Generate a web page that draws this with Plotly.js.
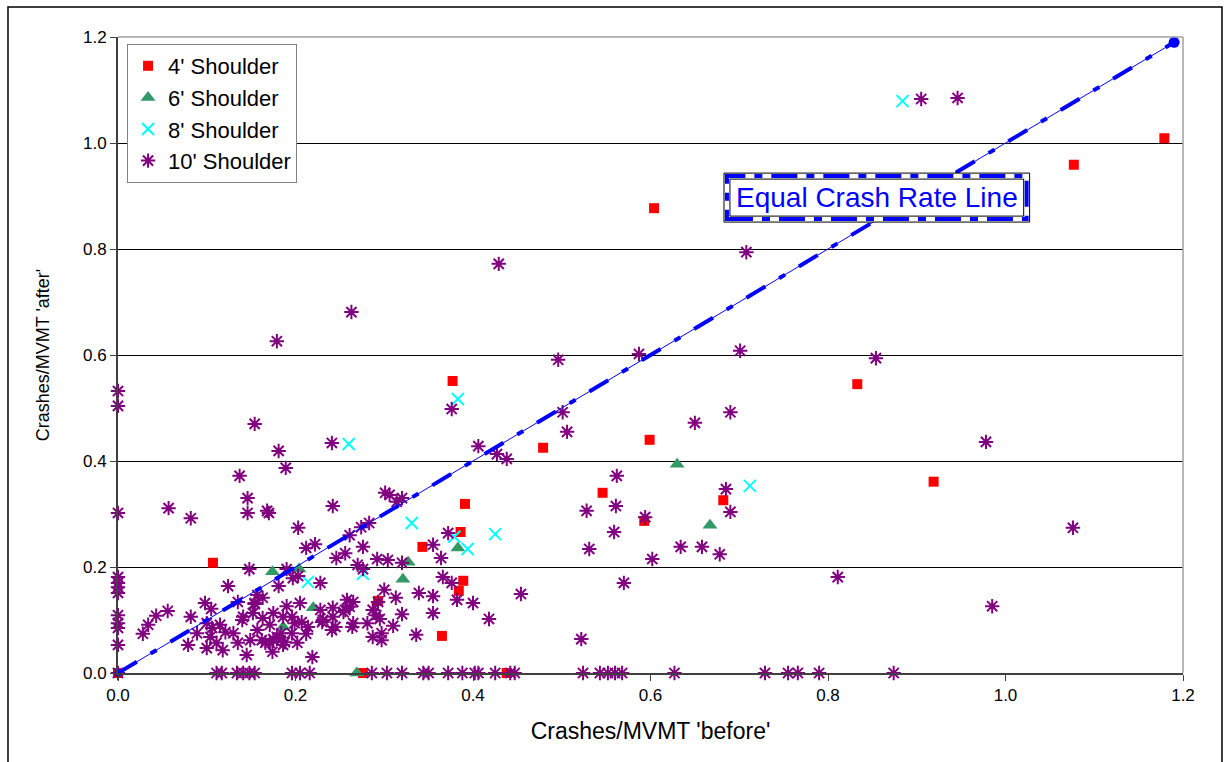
<!DOCTYPE html>
<html>
<head>
<meta charset="utf-8">
<script src="https://cdn.plot.ly/plotly-3.0.1.min.js"></script>
<style>html,body{margin:0;padding:0;background:#fff;}#chart{width:1227px;height:762px;}</style>
</head>
<body>
<div id="chart"></div>
<script>
// ---- Data (Crashes/MVMT before vs after) ----
const s4x = [0, 0.107, 0.276, 0.293, 0.377, 0.343, 0.365, 0.384, 0.386, 0.389, 0.391, 0.438, 0.479, 0.546, 0.593, 0.599, 0.604, 0.682, 0.833, 0.919, 1.077, 1.179];
const s4y = [0, 0.208, 0, 0.136, 0.551, 0.238, 0.070, 0.155, 0.266, 0.174, 0.319, 0, 0.425, 0.340, 0.287, 0.440, 0.877, 0.326, 0.545, 0.361, 0.959, 1.009];

const s6x = [0.174, 0.204, 0.220, 0.186, 0.269, 0.327, 0.321, 0.383, 0.630, 0.667];
const s6y = [0.191, 0.196, 0.123, 0.087, 0, 0.209, 0.177, 0.236, 0.394, 0.279];

const s8x = [0.260, 0.383, 0.331, 0.425, 0.379, 0.394, 0.214, 0.276, 0.712, 0.884];
const s8y = [0.432, 0.517, 0.283, 0.262, 0.257, 0.234, 0.172, 0.187, 0.353, 1.079];

const s10x = [
  0, 0, 0, 0, 0, 0, 0, 0, 0, 0, 0, 0,
  0.111, 0.117, 0.134, 0.141, 0.148, 0.154, 0.196, 0.205, 0.216, 0.286, 0.303, 0.320, 0.344, 0.350, 0.372, 0.388, 0.402, 0.406, 0.425, 0.442, 0.447, 0.524, 0.543, 0.552, 0.560, 0.568, 0.627, 0.729, 0.755, 0.766, 0.790, 0.874,
  0.179, 0.263, 0.429, 0.154, 0.241, 0.181, 0.189, 0.137, 0.376, 0.496, 0.587, 0.501, 0.506, 0.406, 0.427, 0.438, 0.562, 0.701, 0.854, 0.650, 0.690, 0.978, 0.685, 0.690, 0.634, 0.658, 0.678, 1.076, 0.811, 0.985, 0.602, 0.905, 0.946, 0.708,
  0.528, 0.561, 0.559, 0.594, 0.531, 0.570, 0.454, 0.522,
  0.057, 0.082, 0.146, 0.146, 0.168, 0.170, 0.242, 0.203, 0.222, 0.212, 0.256, 0.246, 0.261, 0.276, 0.274, 0.283, 0.292, 0.270, 0.276, 0.148, 0.124, 0.190, 0.197, 0.181, 0.203, 0.228,
  0.301, 0.306, 0.320, 0.314, 0.372, 0.355, 0.364, 0.304, 0.320, 0.366, 0.376, 0.300, 0.313, 0.339, 0.355, 0.382, 0.400, 0.293, 0.295, 0.320, 0.355, 0.310, 0.297, 0.297, 0.336, 0.418,
  0.098, 0.105, 0.056, 0.043, 0.034, 0.028, 0.082, 0.079, 0.100, 0.106, 0.115, 0.121, 0.104, 0.111, 0.118, 0.100, 0.130, 0.135, 0.089, 0.140, 0.135, 0.145,
  0.154, 0.163, 0.152, 0.175, 0.190, 0.205, 0.196, 0.207, 0.214, 0.196, 0.212, 0.184, 0.171, 0.163, 0.157, 0.162, 0.171, 0.179, 0.188, 0.202, 0.219, 0.228, 0.242, 0.242, 0.258, 0.265, 0.230, 0.241, 0.256, 0.265, 0.281, 0.287, 0.157, 0.154, 0.141, 0.186, 0.199, 0.231, 0.245, 0.254, 0.264, 0.291, 0.149, 0.174, 0.166, 0.175, 0.186, 0.287, 0.261
];
const s10y = [
  0.532, 0.504, 0.302, 0.181, 0.170, 0.162, 0.151, 0.109, 0.094, 0.085, 0.053, 0,
  0, 0, 0, 0, 0, 0, 0, 0, 0, 0, 0, 0, 0, 0, 0, 0, 0, 0, 0, 0, 0, 0, 0, 0, 0, 0, 0, 0, 0, 0, 0, 0,
  0.626, 0.681, 0.772, 0.470, 0.434, 0.419, 0.387, 0.372, 0.498, 0.591, 0.602, 0.492, 0.455, 0.428, 0.413, 0.404, 0.372, 0.608, 0.594, 0.472, 0.492, 0.436, 0.347, 0.304, 0.238, 0.238, 0.224, 0.274, 0.181, 0.126, 0.215, 1.083, 1.085, 0.794,
  0.306, 0.315, 0.266, 0.294, 0.234, 0.170, 0.149, 0.064,
  0.311, 0.292, 0.330, 0.302, 0.306, 0.302, 0.315, 0.274, 0.243, 0.236, 0.226, 0.217, 0.260, 0.238, 0.275, 0.283, 0.215, 0.204, 0.196, 0.196, 0.164, 0.196, 0.179, 0.164, 0.183, 0.170,
  0.340, 0.336, 0.330, 0.323, 0.264, 0.242, 0.217, 0.213, 0.208, 0.181, 0.170, 0.157, 0.142, 0.151, 0.145, 0.138, 0.132, 0.134, 0.102, 0.111, 0.113, 0.089, 0.075, 0.062, 0.072, 0.102,
  0.132, 0.121, 0.117, 0.108, 0.091, 0.074, 0.106, 0.053, 0.094, 0.085, 0.091, 0.077, 0.068, 0.057, 0.043, 0.047, 0.075, 0.057, 0.075, 0.100, 0.134, 0.034,
  0.132, 0.142, 0.113, 0.113, 0.126, 0.132, 0.106, 0.096, 0.087, 0.075, 0.074, 0.075, 0.091, 0.104, 0.081, 0.062, 0.057, 0.068, 0.058, 0.057, 0.030, 0.119, 0.123, 0.106, 0.138, 0.134, 0.096, 0.081, 0.119, 0.094, 0.094, 0.119, 0.147, 0.130, 0.106, 0.106, 0.094, 0.100, 0.087, 0.115, 0.087, 0.109, 0.062, 0.040, 0.057, 0.064, 0.053, 0.068, 0.125
];

const lineX = [0, 1.19];
const lineY = [0, 1.19];

const seriesNames = ["4' Shoulder", "6' Shoulder", "8' Shoulder", "10' Shoulder"];
const xTitle = "Crashes/MVMT 'before'";
const yTitle = "Crashes/MVMT 'after'";
const lineLabel = "Equal Crash Rate Line";

const FONT = "Liberation Sans, Arial, sans-serif";

const traces = [
  {x: s4x, y: s4y, name: seriesNames[0], type: 'scatter', mode: 'markers', cliponaxis: false,
   marker: {symbol: 'square', size: 10, color: '#FF0000', line: {width: 0}}},
  {x: s6x, y: s6y, name: seriesNames[1], type: 'scatter', mode: 'markers', cliponaxis: false,
   marker: {symbol: 'triangle-up', size: 13, color: '#339966', line: {width: 0}}},
  {x: s8x, y: s8y, name: seriesNames[2], type: 'scatter', mode: 'markers', cliponaxis: false,
   marker: {symbol: 'x-thin-open', size: 12, color: '#00FFFF', line: {color: '#00FFFF', width: 2}}},
  {x: s10x, y: s10y, name: seriesNames[3], type: 'scatter', mode: 'markers', cliponaxis: false,
   marker: {symbol: 'asterisk-open', size: 12, color: '#800080', line: {color: '#800080', width: 2}}},
  {x: lineX, y: lineY, type: 'scatter', mode: 'lines', showlegend: false, hoverinfo: 'skip', cliponaxis: false,
   line: {color: '#0000FF', width: 1}},
  {x: lineX, y: lineY, type: 'scatter', mode: 'lines', showlegend: false, hoverinfo: 'skip', cliponaxis: false,
   line: {color: '#0000FF', width: 4, dash: '22px,16px,7px,16px'}},
  {x: lineX, y: lineY, type: 'scatter', mode: 'markers', showlegend: false, hoverinfo: 'skip', cliponaxis: false,
   marker: {symbol: 'circle', size: [7, 11], color: '#0000FF', opacity: 1, line: {width: 0}}}
];

// box around label (paper coords)
const bx0 = 0.569, bx1 = 0.856, by0 = 0.709, by1 = 0.786;
const ix = 0.0028, iy = 0.0047;

const layout = {
  width: 1227, height: 762,
  margin: {l: 118, r: 44, t: 37, b: 89},
  paper_bgcolor: '#FFFFFF', plot_bgcolor: '#FFFFFF',
  font: {family: FONT, size: 17, color: '#000'},
  showlegend: true,
  legend: {x: 0.0085, y: 0.989, xanchor: 'left', yanchor: 'top',
    bgcolor: '#FFFFFF', bordercolor: '#808080', borderwidth: 1,
    font: {family: FONT, size: 22, color: '#000'}, tracegroupgap: 0, itemwidth: 30},
  xaxis: {range: [0, 1.2], dtick: 0.2, tick0: 0, tickformat: '.1f', showgrid: false, zeroline: false,
    showline: true, linecolor: '#404040', linewidth: 2, ticks: 'outside', ticklen: 6, tickcolor: '#404040',
    tickfont: {family: FONT, size: 17}, fixedrange: true,
    title: {text: xTitle, font: {family: FONT, size: 23}, standoff: 18}},
  yaxis: {range: [0, 1.2], dtick: 0.2, tick0: 0, tickformat: '.1f', showgrid: true, gridcolor: '#000000', gridwidth: 1, zeroline: false,
    showline: true, linecolor: '#404040', linewidth: 2, ticks: 'outside', ticklen: 6, tickcolor: '#404040',
    tickfont: {family: FONT, size: 17}, fixedrange: true,
    title: {text: yTitle, font: {family: FONT, size: 18}, standoff: 29}},
  shapes: [
    // outer chart border
    {type: 'rect', xref: 'paper', yref: 'paper', x0: -0.1033, x1: 1.0366, y0: -0.2, y1: 1.047,
     line: {color: '#000000', width: 1.5}, fillcolor: 'rgba(0,0,0,0)', layer: 'below'},
    // plot area border (top/right grey)
    {type: 'line', xref: 'paper', yref: 'paper', x0: 0, x1: 1, y0: 1, y1: 1, line: {color: '#A0A0A0', width: 1.5}, layer: 'above'},
    {type: 'line', xref: 'paper', yref: 'paper', x0: 1, x1: 1, y0: 0, y1: 1, line: {color: '#A0A0A0', width: 1.5}, layer: 'above'},
    // label box
    {type: 'rect', xref: 'paper', yref: 'paper', x0: bx0, x1: bx1, y0: by0, y1: by1,
     line: {color: '#000000', width: 1}, fillcolor: '#FFFFFF', layer: 'above'},
    {type: 'rect', xref: 'paper', yref: 'paper', x0: bx0 + ix, x1: bx1 - ix, y0: by0 + iy, y1: by1 - iy,
     line: {color: '#0000FF', width: 4, dash: '26px,9px,8px,9px'}, fillcolor: 'rgba(0,0,0,0)', layer: 'above'},
    {type: 'rect', xref: 'paper', yref: 'paper', x0: bx0 + 2*ix, x1: bx1 - 2*ix, y0: by0 + 2*iy, y1: by1 - 2*iy,
     line: {color: '#000000', width: 1}, fillcolor: 'rgba(0,0,0,0)', layer: 'above'}
  ],
  annotations: [
    {xref: 'paper', yref: 'paper', x: (bx0 + bx1) / 2, y: (by0 + by1) / 2, xanchor: 'center', yanchor: 'middle',
     text: lineLabel, showarrow: false, font: {family: FONT, size: 28, color: '#0000FF'}}
  ]
};

Plotly.newPlot('chart', traces, layout, {displayModeBar: false, staticPlot: true});
</script>
</body>
</html>
